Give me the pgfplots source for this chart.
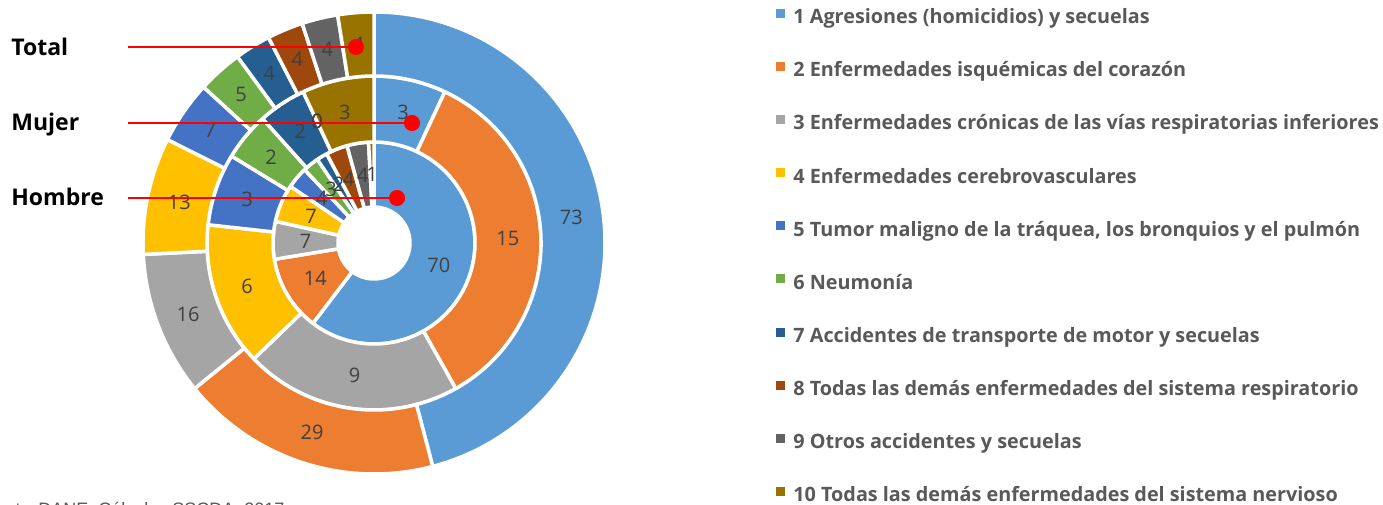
\documentclass[border=0pt]{standalone}
\usepackage{fontspec}
\setmainfont{Open Sans}
\newfontfamily\srcfont{Liberation Sans}
\usepackage{pgfplots}
\usepackage{pgfplotstable}
\pgfplotsset{compat=1.18}

\definecolor{c1}{HTML}{5B9BD5}
\definecolor{c2}{HTML}{ED7D31}
\definecolor{c3}{HTML}{A5A5A5}
\definecolor{c4}{HTML}{FFC000}
\definecolor{c5}{HTML}{4472C4}
\definecolor{c6}{HTML}{70AD47}
\definecolor{c7}{HTML}{255E91}
\definecolor{c8}{HTML}{9E480E}
\definecolor{c9}{HTML}{636363}
\definecolor{c10}{HTML}{997300}
\definecolor{lbl}{HTML}{404040}
\definecolor{leg}{HTML}{595959}

\pgfplotstableread[col sep=comma]{
id,total,mujer,hombre
1,73,3,70
2,29,15,14
3,16,9,7
4,13,6,7
5,7,3,4
6,5,2,3
7,4,2,2
8,4,0,4
9,4,0,4
10,4,3,1
}\datatable

\newcommand\lblfont{\fontsize{10}{12}\selectfont}
\gdef\sectors{}
\gdef\labels{}
\newcommand\buildring[4]{%
  \def\ringsum{0}%
  \pgfplotsforeachungrouped \ii in {0,...,9}{%
    \pgfplotstablegetelem{\ii}{#1}\of\datatable
    \pgfmathsetmacro\ringsum{\ringsum+\pgfplotsretval}%
  }%
  \def\cum{0}%
  \pgfplotsforeachungrouped \ii in {0,...,9}{%
    \pgfplotstablegetelem{\ii}{#1}\of\datatable
    \edef\val{\pgfplotsretval}%
    \pgfmathsetmacro\aone{90-(\cum/\ringsum)*360}%
    \pgfmathsetmacro\cum{\cum+\val}%
    \pgfmathsetmacro\atwo{90-(\cum/\ringsum)*360}%
    \pgfmathsetmacro\amid{(\aone+\atwo)/2}%
    \pgfmathtruncatemacro\cidx{\ii+1}%
    \ifdim\val pt>0pt
      \xdef\sectors{\unexpanded\expandafter{\sectors}\noexpand\fill[c\cidx,draw=white,line width=1.75pt] ([shift={(\aone:#3pt)}]C) arc[start angle=\aone,end angle=\atwo,radius=#3pt] -- ([shift={(\atwo:#2pt)}]C) arc[start angle=\atwo,end angle=\aone,radius=#2pt] -- cycle;}%
    \fi
    \xdef\labels{\unexpanded\expandafter{\labels}\noexpand\node[text=lbl,font=\noexpand\lblfont,inner sep=0pt] at ([shift={(\amid:#4pt)}]C) {\val};}%
  }%
}
\buildring{hombre}{18}{50.5}{34.25}
\buildring{mujer}{50.5}{83.5}{67}
\buildring{total}{83.5}{115.5}{99.5}

\begin{document}
\begin{tikzpicture}
\useasboundingbox (0,0) rectangle (691.5pt,252pt);
\begin{axis}[at={(0,0)}, anchor=south west, x=0.5pt, y=0.5pt,
  xmin=0, xmax=1383, ymin=0, ymax=504, hide axis, clip=false,
  legend cell align=left,
  legend image code/.code={\fill (0pt,0.5pt) rectangle (4pt,4.5pt);},
  legend style={at={(axis cs:776,495.1)}, anchor=north west, draw=none, fill=none,
    inner sep=0pt, outer sep=0pt, row sep=17.15pt,
    font=\fontsize{9.9}{11}\selectfont\bfseries, text=leg,
    nodes={inner sep=0pt, text height=7.4pt, text depth=2pt},
    /tikz/every odd column/.append style={column sep=4.3pt}}]
\coordinate (C) at (axis cs:374,261);
\sectors
\labels
\addplot[forget plot, red, line width=0.6pt] coordinates {(128,457) (356,457)};
\addplot[forget plot, red, line width=0.6pt] coordinates {(128,381) (412,381)};
\addplot[forget plot, red, line width=0.6pt] coordinates {(128,306) (397,306)};
\addplot[forget plot, only marks, mark=*, mark size=3.8pt, red] coordinates {(356,457) (412,381) (397,306)};
\node[anchor=base west, inner sep=0pt, font=\fontsize{11.5}{13}\selectfont\bfseries] at (axis cs:11,448) {Total};
\node[anchor=base west, inner sep=0pt, font=\fontsize{11.5}{13}\selectfont\bfseries] at (axis cs:11,373) {Mujer};
\node[anchor=base west, inner sep=0pt, font=\fontsize{11.5}{13}\selectfont\bfseries] at (axis cs:11,298) {Hombre};
\node[anchor=base east, inner sep=0pt, text=leg, font=\srcfont\fontsize{9}{11}\selectfont] at (axis cs:36,-11) {Fuente:};
\node[anchor=base west, inner sep=0pt, text=leg, font=\srcfont\fontsize{9}{11}\selectfont] at (axis cs:38,-11) {DANE. Cálculos SSCDA, 2017};
\addlegendimage{c1}\addlegendentry{1 Agresiones (homicidios) y secuelas}
\addlegendimage{c2}\addlegendentry{2 Enfermedades isquémicas del corazón}
\addlegendimage{c3}\addlegendentry{3 Enfermedades crónicas de las vías respiratorias inferiores}
\addlegendimage{c4}\addlegendentry{4 Enfermedades cerebrovasculares}
\addlegendimage{c5}\addlegendentry{5 Tumor maligno de la tráquea, los bronquios y el pulmón}
\addlegendimage{c6}\addlegendentry{6 Neumonía}
\addlegendimage{c7}\addlegendentry{7 Accidentes de transporte de motor y secuelas}
\addlegendimage{c8}\addlegendentry{8 Todas las demás enfermedades del sistema respiratorio}
\addlegendimage{c9}\addlegendentry{9 Otros accidentes y secuelas}
\addlegendimage{c10}\addlegendentry{10 Todas las demás enfermedades del sistema nervioso}
\end{axis}
\end{tikzpicture}
\end{document}
